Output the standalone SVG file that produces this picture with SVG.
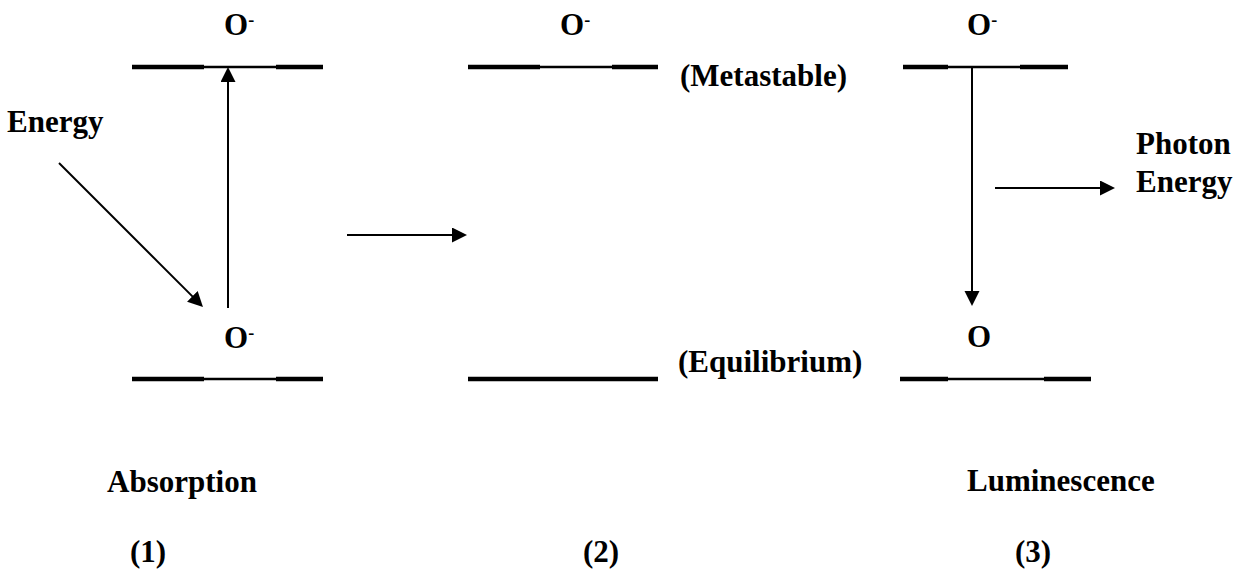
<svg xmlns="http://www.w3.org/2000/svg" width="1244" height="571" viewBox="0 0 1244 571">
<style>
.t{font-family:"Liberation Serif","Times New Roman",serif;font-weight:bold;font-size:31px;fill:#000}
.sup{font-size:18px}
.thick{stroke:#000;stroke-width:4.3;fill:none}
.thin{stroke:#000;stroke-width:2.3;fill:none}
.arr{stroke:#000;stroke-width:2;fill:none;marker-end:url(#ah)}
</style>
<defs>
<marker id="ah" markerUnits="userSpaceOnUse" markerWidth="16" markerHeight="16" refX="5" refY="7.5" orient="auto">
<path d="M0,0 L15,7.5 L0,15 z" fill="#000"/>
</marker>
</defs>
<rect width="1244" height="571" fill="#fff"/>

<g id="state1-upper">
<path class="thick" d="M132,67H204M276,67H323"/>
<path class="thin" d="M204,67H276"/>
<text class="t" x="224" y="35">O<tspan class="sup" dy="-9">-</tspan></text>
</g>
<g id="state1-lower">
<path class="thick" d="M132,379H204M276,379H323"/>
<path class="thin" d="M204,379H276"/>
<text class="t" x="224" y="348">O<tspan class="sup" dy="-9">-</tspan></text>
</g>
<g id="energy-label">
<text class="t" x="7" y="132">Energy</text>
</g>
<g id="state1-caption">
<text class="t" x="107" y="492">Absorption</text>
<text class="t" x="130" y="562">(1)</text>
</g>

<g id="state2-upper">
<path class="thick" d="M468,67H540M612,67H658"/>
<path class="thin" d="M540,67H612"/>
<text class="t" x="560" y="35">O<tspan class="sup" dy="-9">-</tspan></text>
<text class="t" x="680" y="86">(Metastable)</text>
</g>
<g id="state2-lower">
<path class="thick" d="M468,379H658"/>
<text class="t" x="678" y="372">(Equilibrium)</text>
</g>
<g id="state2-caption">
<text class="t" x="583" y="562">(2)</text>
</g>

<g id="state3-upper">
<path class="thick" d="M903,67H948M1020,67H1068"/>
<path class="thin" d="M948,67H1020"/>
<text class="t" x="967" y="35">O<tspan class="sup" dy="-9">-</tspan></text>
</g>
<g id="state3-lower">
<path class="thick" d="M900,379H948M1044,379H1091"/>
<path class="thin" d="M948,379H1044"/>
<text class="t" x="967" y="347">O</text>
</g>
<g id="photon-label">
<text class="t" x="1136" y="154">Photon</text>
<text class="t" x="1136" y="192">Energy</text>
</g>
<g id="state3-caption">
<text class="t" x="967" y="491">Luminescence</text>
<text class="t" x="1015" y="562">(3)</text>
</g>

<g id="connectors">
<line class="arr" x1="228" y1="308" x2="228" y2="77"/>
<line class="arr" x1="59" y1="163" x2="195.9" y2="299.9"/>
<line class="arr" x1="347" y1="235" x2="457" y2="235"/>
<line class="arr" x1="972" y1="67" x2="972" y2="296"/>
<line class="arr" x1="995" y1="188" x2="1105" y2="188"/>
</g>
</svg>
